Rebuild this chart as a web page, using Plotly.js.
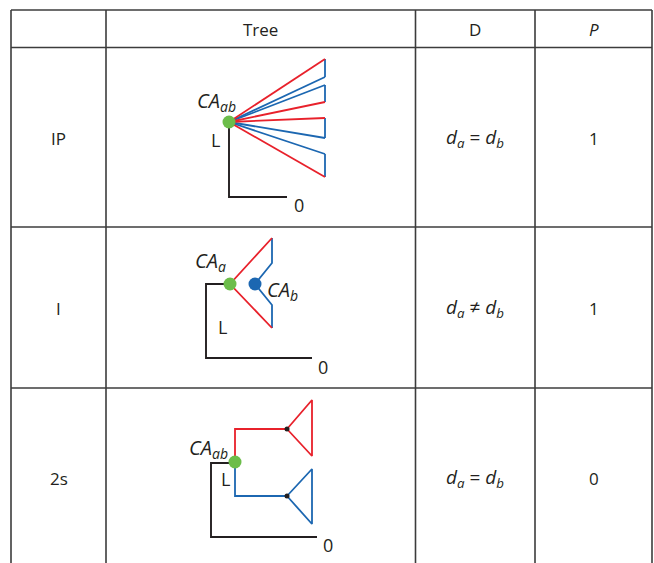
<!DOCTYPE html>
<html><head><meta charset="utf-8">
<script src="https://cdn.plot.ly/plotly-3.0.1.min.js"></script>
<style>html,body{margin:0;padding:0;background:#fff}#c{width:654px;height:563px}</style>
</head><body><div id="c"></div>
<script>
// ---- table grid (page units) ----
const colEdges = [11, 106, 415.5, 535, 652];
const rowEdges = [10, 47.5, 227, 388];
const tableBottom = 563;
const headers = ["", "Tree", "D", "<i>P</i>"];
const rowLabels = ["IP", "I", "2s"];
const rowCenters = [138, 308, 478];
const dValues = ["<i>d<sub>a</sub></i> = <i>d<sub>b</sub></i>", "<i>d<sub>a</sub></i> ≠ <i>d<sub>b</sub></i>", "<i>d<sub>a</sub></i> = <i>d<sub>b</sub></i>"];
const pValues = ["1", "1", "0"];

// ---- tree 1 (IP): polytomy fan ----
const t1Root = [229, 122];
const t1TipX = 325;
const t1RedTips = [59, 102, 118, 177];
const t1BlueTips = [77, 85, 138, 154];
const t1StemX = [229, 229, 287];
const t1StemY = [122, 197, 197];

// ---- tree 2 (I) ----
const t2Root = [230, 284];
const t2BlueNode = [255, 284];
const t2StemX = [230, 206, 206, 312];
const t2StemY = [284, 284, 358, 358];
const t2RedX = [272, 230, 272];
const t2RedY = [238, 284, 328];
const t2BlueX = [272, 272, 255, 272, 272];
const t2BlueY = [238, 263, 284, 305, 328];

// ---- tree 3 (2s) ----
const t3Root = [235, 462];
const t3StemX = [235, 211, 211, 317];
const t3StemY = [463, 463, 537, 537];
const t3RedX = [235, 235, 287, null, 287, 312, 312, 287];
const t3RedY = [462, 429, 429, null, 429, 400, 456, 429];
const t3BlueX = [235, 235, 287, null, 287, 312, 312, 287];
const t3BlueY = [462, 496, 496, null, 496, 469, 524, 496];
const t3Nodes = [[287, 429], [287, 496]];

const RED = '#e8212b', BLUE = '#1c67b1', GREEN = '#6cbd4a', BLACK = '#231f20', GRID = '#3c3c3c';
const FONT = 'Open Sans, Noto Sans, sans-serif';

const traces = [];
function line(x, y, color, w) {
  traces.push({type:'scatter', mode:'lines', x:x, y:y, line:{color:color, width:w||1.8}, hoverinfo:'skip', showlegend:false});
}
function dots(pts, color, size) {
  traces.push({type:'scatter', mode:'markers', x:pts.map(p=>p[0]), y:pts.map(p=>p[1]), marker:{color:color, size:size, line:{width:0}}, hoverinfo:'skip', showlegend:false});
}

// grid lines
const gx = [], gy = [];
rowEdges.forEach(r => { gx.push(colEdges[0], colEdges[colEdges.length-1], null); gy.push(r, r, null); });
colEdges.forEach(c => { gx.push(c, c, null); gy.push(rowEdges[0], tableBottom, null); });
line(gx, gy, GRID, 1.6);

// tree 1
line(t1StemX, t1StemY, BLACK, 1.9);
const f1rx = [], f1ry = [], f1bx = [], f1by = [];
t1RedTips.forEach(t => { f1rx.push(t1Root[0], t1TipX, null); f1ry.push(t1Root[1], t, null); });
t1BlueTips.forEach(t => { f1bx.push(t1Root[0], t1TipX, null); f1by.push(t1Root[1], t, null); });
const pairs = [[t1RedTips[0], t1BlueTips[0]], [t1BlueTips[1], t1RedTips[1]], [t1RedTips[2], t1BlueTips[2]], [t1BlueTips[3], t1RedTips[3]]];
pairs.forEach(p => { f1bx.push(t1TipX, t1TipX, null); f1by.push(p[0], p[1], null); });
line(f1bx, f1by, BLUE);
line(f1rx, f1ry, RED);
dots([t1Root], GREEN, 13);

// tree 2
line(t2StemX, t2StemY, BLACK, 1.9);
line(t2BlueX, t2BlueY, BLUE);
line(t2RedX, t2RedY, RED);
dots([t2Root], GREEN, 13);
dots([t2BlueNode], BLUE, 13);

// tree 3
line(t3StemX, t3StemY, BLACK, 1.9);
line(t3RedX, t3RedY, RED);
line(t3BlueX, t3BlueY, BLUE);
dots(t3Nodes, BLACK, 5);
dots([t3Root], GREEN, 13);

const ann = [];
function txt(x, y, s, size, xa) {
  ann.push({x:x, y:y, xref:'x', yref:'y', text:s, showarrow:false, xanchor:xa||'center', yanchor:'middle', font:{family:FONT, size:size||16, color:'#231f20'}});
}
const colCenters = colEdges.slice(0, -1).map((c, i) => (c + colEdges[i+1]) / 2);
headers.forEach((h, i) => { if (h) txt(colCenters[i], (rowEdges[0]+rowEdges[1])/2 + 1, h, 17); });
rowLabels.forEach((l, i) => txt(colCenters[0], rowCenters[i], l, 17));
dValues.forEach((d, i) => txt(colCenters[2], rowCenters[i], d, 19));
pValues.forEach((p, i) => txt(colCenters[3], rowCenters[i], p, 17));

// tree labels
txt(238, 101, '<i>CA<sub>ab</sub></i>', 20, 'right');
txt(215, 140, 'L', 18);
txt(299, 205, '0', 18);
txt(228, 261, '<i>CA<sub>a</sub></i>', 20, 'right');
txt(265, 290, '<i>CA<sub>b</sub></i>', 20, 'left');
txt(222, 327, 'L', 18);
txt(323, 367, '0', 18);
txt(230, 448, '<i>CA<sub>ab</sub></i>', 20, 'right');
txt(225, 479, 'L', 18);
txt(328, 545, '0', 18);

const layout = {
  width:654, height:563, margin:{l:0, r:0, t:0, b:0},
  paper_bgcolor:'#fff', plot_bgcolor:'#fff',
  xaxis:{range:[0, 654], visible:false, fixedrange:true},
  yaxis:{range:[563, 0], visible:false, fixedrange:true},
  annotations:ann, showlegend:false
};
Plotly.newPlot('c', traces, layout, {staticPlot:true, displayModeBar:false});
</script></body></html>
